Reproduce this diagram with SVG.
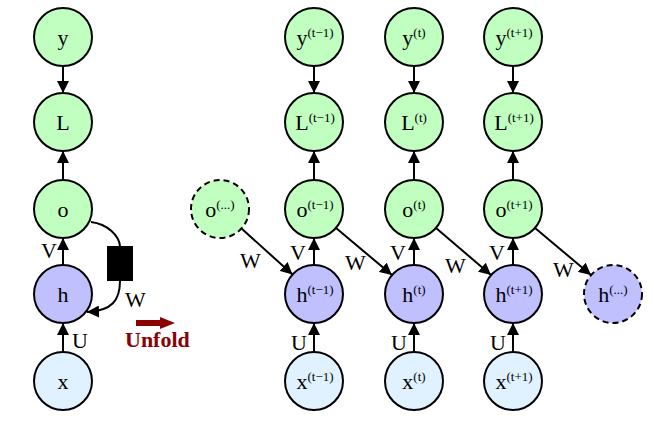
<svg xmlns="http://www.w3.org/2000/svg" width="659" height="423" viewBox="0 0 659 423">
<style>
.n{stroke:#000;stroke-width:2}
.g{fill:#c0ffc0}.p{fill:#c0c0ff}.b{fill:#e0f2ff}
.d{stroke-dasharray:6,4}
text{font-family:"Liberation Serif","Times New Roman",serif;font-size:22px;fill:#000}
.t{text-anchor:middle}
.s{font-size:13px}
.c{stroke:#000;stroke-width:2;fill:none}
</style>
<defs>
<marker id="a" markerUnits="userSpaceOnUse" markerWidth="12" markerHeight="12" refX="10" refY="5" orient="auto" viewBox="0 0 10 10">
<path d="M0,0L10,5L0,10z" fill="#000"/>
</marker>
</defs>
<rect width="659" height="423" fill="#fff"/>
<g id="connectors">
<path class="c" marker-end="url(#a)" d="M63,66V93"/>
<path class="c" marker-end="url(#a)" d="M63,180V151"/>
<path class="c" marker-end="url(#a)" d="M63,265V238"/>
<path class="c" marker-end="url(#a)" d="M63,352V323"/>
<path class="c" d="M91,222C108,224 119,236 120,246"/>
<path class="c" marker-end="url(#a)" d="M120,281C120,300 112,311 87,312"/>
<rect x="107" y="246" width="26" height="35" fill="#000"/>
<path d="M136,320H160V317L175,323L160,329V326H136z" fill="#8b0000"/>
<path class="c" marker-end="url(#a)" d="M314,66V93"/>
<path class="c" marker-end="url(#a)" d="M314,180V151"/>
<path class="c" marker-end="url(#a)" d="M314,265V238"/>
<path class="c" marker-end="url(#a)" d="M314,352V323"/>
<path class="c" marker-end="url(#a)" d="M414,66V93"/>
<path class="c" marker-end="url(#a)" d="M414,180V151"/>
<path class="c" marker-end="url(#a)" d="M414,265V238"/>
<path class="c" marker-end="url(#a)" d="M414,352V323"/>
<path class="c" marker-end="url(#a)" d="M513,66V93"/>
<path class="c" marker-end="url(#a)" d="M513,180V151"/>
<path class="c" marker-end="url(#a)" d="M513,265V238"/>
<path class="c" marker-end="url(#a)" d="M513,352V323"/>
<path class="c" marker-end="url(#a)" d="M241.5,228.5L292.5,274.5"/>
<path class="c" marker-end="url(#a)" d="M336,228L392,275"/>
<path class="c" marker-end="url(#a)" d="M436,228L491,275"/>
<path class="c" marker-end="url(#a)" d="M535,228L591,275"/>
<text x="41" y="258">V</text>
<text x="72" y="348">U</text>
<text x="125" y="307">W</text>
<text x="290" y="260">V</text>
<text x="390" y="260">V</text>
<text x="489" y="260">V</text>
<text x="291" y="350">U</text>
<text x="391" y="350">U</text>
<text x="490" y="350">U</text>
<text x="240" y="268">W</text>
<text x="345" y="270">W</text>
<text x="445" y="273">W</text>
<text x="553" y="277">W</text>
<text x="125" y="347" style="font-weight:bold;fill:#8b0000">Unfold</text>
</g>
<g id="y"><circle class="n g" cx="63" cy="37" r="29"/><text class="t" x="63" y="45">y</text></g>
<g id="L"><circle class="n g" cx="63" cy="122" r="29"/><text class="t" x="63" y="130">L</text></g>
<g id="o"><circle class="n g" cx="63" cy="209" r="29"/><text class="t" x="63" y="217">o</text></g>
<g id="h"><circle class="n p" cx="63" cy="294" r="29"/><text class="t" x="63" y="302">h</text></g>
<g id="x"><circle class="n b" cx="63" cy="381" r="29"/><text class="t" x="63" y="389">x</text></g>
<g id="o_prev"><circle class="n g d" cx="220" cy="209" r="29"/><text class="t" x="220" y="217">o<tspan class="s" dy="-8">(...)</tspan></text></g>
<g id="h_next"><circle class="n p d" cx="613" cy="294" r="29"/><text class="t" x="613" y="302">h<tspan class="s" dy="-8">(...)</tspan></text></g>
<g id="y_tm1"><circle class="n g" cx="314" cy="37" r="29"/><text class="t" x="315" y="45">y<tspan class="s" dy="-8">(t−1)</tspan></text></g>
<g id="L_tm1"><circle class="n g" cx="314" cy="122" r="29"/><text class="t" x="315" y="130">L<tspan class="s" dy="-8">(t−1)</tspan></text></g>
<g id="o_tm1"><circle class="n g" cx="314" cy="209" r="29"/><text class="t" x="315" y="217">o<tspan class="s" dy="-8">(t−1)</tspan></text></g>
<g id="h_tm1"><circle class="n p" cx="314" cy="294" r="29"/><text class="t" x="315" y="302">h<tspan class="s" dy="-8">(t−1)</tspan></text></g>
<g id="x_tm1"><circle class="n b" cx="314" cy="381" r="29"/><text class="t" x="315" y="389">x<tspan class="s" dy="-8">(t−1)</tspan></text></g>
<g id="y_t"><circle class="n g" cx="414" cy="37" r="29"/><text class="t" x="414" y="45">y<tspan class="s" dy="-8">(t)</tspan></text></g>
<g id="L_t"><circle class="n g" cx="414" cy="122" r="29"/><text class="t" x="414" y="130">L<tspan class="s" dy="-8">(t)</tspan></text></g>
<g id="o_t"><circle class="n g" cx="414" cy="209" r="29"/><text class="t" x="414" y="217">o<tspan class="s" dy="-8">(t)</tspan></text></g>
<g id="h_t"><circle class="n p" cx="414" cy="294" r="29"/><text class="t" x="414" y="302">h<tspan class="s" dy="-8">(t)</tspan></text></g>
<g id="x_t"><circle class="n b" cx="414" cy="381" r="29"/><text class="t" x="414" y="389">x<tspan class="s" dy="-8">(t)</tspan></text></g>
<g id="y_tp1"><circle class="n g" cx="513" cy="37" r="29"/><text class="t" x="514" y="45">y<tspan class="s" dy="-8">(t+1)</tspan></text></g>
<g id="L_tp1"><circle class="n g" cx="513" cy="122" r="29"/><text class="t" x="514" y="130">L<tspan class="s" dy="-8">(t+1)</tspan></text></g>
<g id="o_tp1"><circle class="n g" cx="513" cy="209" r="29"/><text class="t" x="514" y="217">o<tspan class="s" dy="-8">(t+1)</tspan></text></g>
<g id="h_tp1"><circle class="n p" cx="513" cy="294" r="29"/><text class="t" x="514" y="302">h<tspan class="s" dy="-8">(t+1)</tspan></text></g>
<g id="x_tp1"><circle class="n b" cx="513" cy="381" r="29"/><text class="t" x="514" y="389">x<tspan class="s" dy="-8">(t+1)</tspan></text></g>
</svg>
